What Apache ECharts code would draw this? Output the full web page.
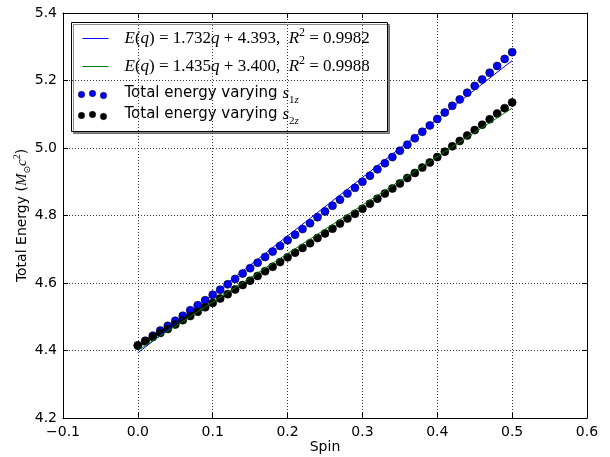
<!DOCTYPE html>
<html>
<head>
<meta charset="utf-8">
<script src="https://cdn.jsdelivr.net/npm/echarts@6/dist/echarts.min.js"></script>
<style>
  html, body { margin: 0; padding: 0; background: #fff; }
  #chart { width: 610px; height: 457px; }
</style>
</head>
<body>
<div id="chart"></div>
<script>
// Spin values sampled for both runs
const spin = [
  0.00, 0.01, 0.02, 0.03, 0.04, 0.05, 0.06, 0.07, 0.08, 0.09,
  0.10, 0.11, 0.12, 0.13, 0.14, 0.15, 0.16, 0.17, 0.18, 0.19,
  0.20, 0.21, 0.22, 0.23, 0.24, 0.25, 0.26, 0.27, 0.28, 0.29,
  0.30, 0.31, 0.32, 0.33, 0.34, 0.35, 0.36, 0.37, 0.38, 0.39,
  0.40, 0.41, 0.42, 0.43, 0.44, 0.45, 0.46, 0.47, 0.48, 0.49,
  0.50
];

// Total energy when varying s1z
const energyS1z = [
  4.415, 4.429, 4.444, 4.459, 4.473, 4.488, 4.503, 4.519, 4.534, 4.549,
  4.565, 4.580, 4.596, 4.612, 4.628, 4.644, 4.660, 4.677, 4.693, 4.710,
  4.727, 4.743, 4.760, 4.777, 4.795, 4.812, 4.829, 4.847, 4.865, 4.882,
  4.900, 4.918, 4.937, 4.955, 4.973, 4.992, 5.010, 5.029, 5.048, 5.067,
  5.086, 5.105, 5.125, 5.144, 5.164, 5.184, 5.203, 5.223, 5.243, 5.264,
  5.284
];

// Total energy when varying s2z
const energyS2z = [
  4.415, 4.427, 4.440, 4.452, 4.464, 4.477, 4.490, 4.502, 4.515, 4.528,
  4.541, 4.554, 4.567, 4.581, 4.594, 4.607, 4.621, 4.635, 4.648, 4.662,
  4.676, 4.690, 4.704, 4.718, 4.733, 4.747, 4.761, 4.776, 4.791, 4.805,
  4.820, 4.835, 4.850, 4.865, 4.880, 4.895, 4.911, 4.926, 4.942, 4.957,
  4.973, 4.989, 5.005, 5.021, 5.037, 5.053, 5.069, 5.085, 5.102, 5.118,
  5.135
];

// Linear fits, evaluated at the ends of the spin range
const fitX = [0.0, 0.5];
const fitS1z = [4.393, 5.259];
const fitS2z = [4.400, 5.118];

// Axis ranges
const xRange = [-0.1, 0.6, 0.1];
const yRange = [4.2, 5.4, 0.2];

const pairs = (xs, ys) => xs.map((x, i) => [x, ys[i]]);
const fmt = v => v.toFixed(1).replace('-', '\u2212');

const SANS = 'DejaVu Sans';
const SERIF = 'Liberation Serif';

const mathRich = {
  rm: { fontFamily: SERIF, fontSize: 17, lineHeight: 24, color: '#000' },
  it: { fontFamily: SERIF, fontStyle: 'italic', fontSize: 17, lineHeight: 24, color: '#000' },
  sup: { fontFamily: SERIF, fontSize: 12, lineHeight: 13, verticalAlign: 'top', color: '#000' },
  sans: { fontFamily: SANS, fontSize: 15, lineHeight: 24, color: '#000' },
  sit: { fontFamily: SERIF, fontStyle: 'italic', fontSize: 17, lineHeight: 24, color: '#000' },
  sub: { fontFamily: SERIF, fontSize: 11, lineHeight: 17, verticalAlign: 'bottom', color: '#000' },
  subit: { fontFamily: SERIF, fontStyle: 'italic', fontSize: 11, lineHeight: 17, verticalAlign: 'bottom', color: '#000' }
};

const legendRows = [
  { kind: 'line', color: '#0000ff',
    text: '{it|E}{rm|(}{it|q}{rm|) = 1.732}{it|q}{rm| + 4.393,  }{it|R}{sup|2}{rm| = 0.9982}' },
  { kind: 'line', color: '#008000',
    text: '{it|E}{rm|(}{it|q}{rm|) = 1.435}{it|q}{rm| + 3.400,  }{it|R}{sup|2}{rm| = 0.9988}' },
  { kind: 'dots', color: '#0000ff', text: '{sans|Total energy varying }{sit|s}{sub|1}{subit|z}' },
  { kind: 'dots', color: '#000000', text: '{sans|Total energy varying }{sit|s}{sub|2}{subit|z}' }
];
const legendRowY = [16, 44, 71, 92];

const legendChildren = [{
  type: 'rect',
  shape: { x: 0, y: 0, width: 316, height: 109 },
  style: { fill: '#fff', stroke: '#000', lineWidth: 1,
           shadowColor: 'rgba(0,0,0,0.45)', shadowOffsetX: 2, shadowOffsetY: 2, shadowBlur: 0 }
}];
legendRows.forEach((row, i) => {
  const y = legendRowY[i];
  if (row.kind === 'line') {
    legendChildren.push({
      type: 'line', shape: { x1: 11, y1: y, x2: 37, y2: y },
      style: { stroke: row.color, lineWidth: 1 }
    });
  } else {
    [[10, 1], [21, 0], [32, 2]].forEach(([dx, dy]) => {
      legendChildren.push({
        type: 'circle', shape: { cx: dx, cy: y + dy, r: 3.2 },
        style: { fill: row.color, stroke: '#000', lineWidth: 0.5 }
      });
    });
  }
  legendChildren.push({
    type: 'text', x: 53, y: y,
    style: { text: row.text, rich: mathRich, verticalAlign: 'middle', align: 'left' }
  });
});

const axisLine = { show: true, onZero: false, lineStyle: { color: '#000', width: 1 } };
const tickIn = { show: true, inside: true, length: 5, lineStyle: { color: '#000', width: 1 } };
const gridDots = { show: true, lineStyle: { color: '#333', width: 1, type: [1, 2] } };
const tickLabel = { fontFamily: SANS, fontSize: 14, color: '#000' };

const chart = echarts.init(document.getElementById('chart'), null, { renderer: 'canvas' });
chart.setOption({
  animation: false,
  backgroundColor: '#fff',
  grid: { left: 63, right: 23, top: 13, bottom: 39, containLabel: false, outerBoundsMode: 'none' },
  xAxis: [{
    type: 'value', min: xRange[0], max: xRange[1], interval: xRange[2],
    position: 'bottom',
    axisLine, axisTick: tickIn, splitLine: gridDots,
    axisLabel: Object.assign({ margin: 7, formatter: fmt }, tickLabel),
    name: 'Spin', nameLocation: 'middle', nameGap: 22, nameMoveOverlap: false,
    nameTextStyle: { fontFamily: SANS, fontSize: 14, color: '#000' }
  }, {
    type: 'value', min: xRange[0], max: xRange[1], interval: xRange[2],
    position: 'top',
    axisLine, axisTick: tickIn, splitLine: { show: false }, axisLabel: { show: false }
  }],
  yAxis: [{
    type: 'value', min: yRange[0], max: yRange[1], interval: yRange[2],
    position: 'left',
    axisLine, axisTick: tickIn, splitLine: gridDots,
    axisLabel: Object.assign({ margin: 6, formatter: fmt }, tickLabel),
    name: '{sa|Total Energy (}{mi|M}{msub|\u2299}{mi|c}{msup|2}{sa|)}',
    nameLocation: 'middle', nameRotate: 90, nameGap: 31, nameMoveOverlap: false,
    nameTextStyle: {
      rich: {
        sa: { fontFamily: SANS, fontSize: 14, lineHeight: 20, color: '#000' },
        mi: { fontFamily: SERIF, fontStyle: 'italic', fontSize: 15, lineHeight: 20, color: '#000' },
        msub: { fontFamily: SANS, fontSize: 9, lineHeight: 13, verticalAlign: 'bottom', color: '#000' },
        msup: { fontFamily: SERIF, fontSize: 10, lineHeight: 10, verticalAlign: 'top', color: '#000' }
      }
    }
  }, {
    type: 'value', min: yRange[0], max: yRange[1], interval: yRange[2],
    position: 'right',
    axisLine, axisTick: tickIn, splitLine: { show: false }, axisLabel: { show: false }
  }],
  series: [{
    name: 'Total energy varying s1z', type: 'scatter', data: pairs(spin, energyS1z),
    symbol: 'circle', symbolSize: 8,
    itemStyle: { color: '#0000ff', borderColor: '#000', borderWidth: 0.6, opacity: 1 }
  }, {
    name: 'Total energy varying s2z', type: 'scatter', data: pairs(spin, energyS2z),
    symbol: 'circle', symbolSize: 8,
    itemStyle: { color: '#000', borderColor: '#000', borderWidth: 0.6, opacity: 1 }
  }, {
    name: 'fit s1z', type: 'line', data: pairs(fitX, fitS1z), showSymbol: false, symbol: 'none',
    lineStyle: { color: '#0000ff', width: 1 }
  }, {
    name: 'fit s2z', type: 'line', data: pairs(fitX, fitS2z), showSymbol: false, symbol: 'none',
    lineStyle: { color: '#008000', width: 1 }
  }],
  graphic: [{
    type: 'group', left: 71, top: 22, z: 100,
    children: legendChildren
  }]
});
</script>
</body>
</html>
